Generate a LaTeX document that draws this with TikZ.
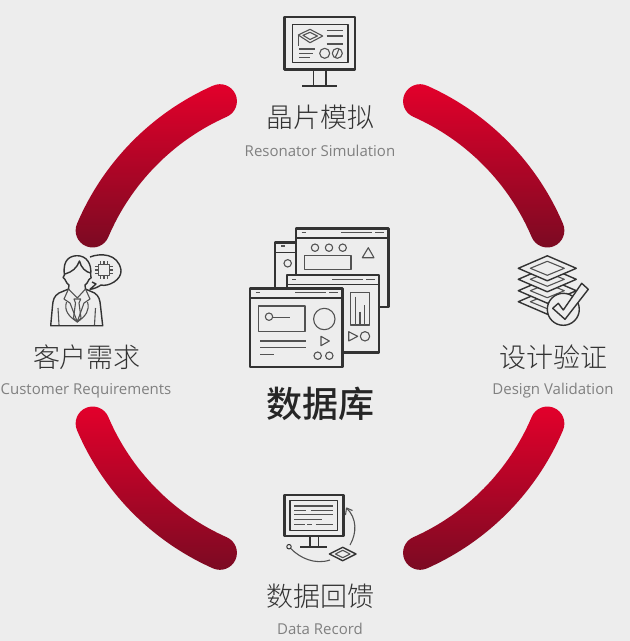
\documentclass[tikz,border=0pt]{standalone}
\usepackage{fontspec}
\setmainfont{Open Sans}
\newfontfamily\cjkfont{Noto Sans CJK SC Light}
\newfontfamily\cjkbold{Noto Sans CJK SC Medium}
\usetikzlibrary{positioning}

\definecolor{pagegrey}{HTML}{EDEDED}
\definecolor{iconline}{HTML}{333333}
\definecolor{redtop}{HTML}{E4002B}
\definecolor{redbottom}{HTML}{7A0A22}
\definecolor{cjkgrey}{HTML}{333333}
\definecolor{latingrey}{HTML}{808080}

\tikzset{
    cjklabel/.style = {inner sep = 0, text = cjkgrey, font = \cjkfont\fontsize{27}{27}\selectfont},
    latinlabel/.style = {inner sep = 0, text = latingrey, font = \fontsize{15}{15}\selectfont},
    bandfill/.style = {top color = redtop, bottom color = redbottom},
    heavy/.style = {draw = iconline, line width = 2.4pt},
    medium/.style = {draw = iconline, line width = 1.4pt},
    thin line/.style = {draw = iconline!85, line width = 1.1pt},
    paper/.style = {fill = pagegrey}
}

% one red band of the ring, angles counter-clockwise
\newcommand{\redarc}[2]{
    \shade [bandfill, shift = {(320, -327)}] (#1:264) arc (#1:#2:264) arc (#2:#2+180:17)
        arc (#2:#1:230) arc (#1+180:#1+360:17) -- cycle;
}
% window with its title bar, from top left corner to bottom right corner
\newcommand{\appwindow}[4]{
    \draw [heavy, paper] (#1, #2) rectangle (#3, #4);
    \draw [medium] (#1, #2 + 9.5) -- (#3, #2 + 9.5);
    \draw [thin line] (#1 + 5.5, #2 + 4.5) -- +(4, 0);
    \draw [thin line] (#3 - 47, #2 + 4.5) -- +(31, 0);
    \draw [thin line] (#3 - 13, #2 + 4.5) -- +(8.5, 0);
}

\begin{document}
\begin{tikzpicture}[x = 1pt, y = -1pt, line join = round]
            \useasboundingbox [fill = pagegrey] (0, 0) rectangle (630, 641);

            % ring
            \begin{scope}[y = 1pt]
                \redarc{113.9}{157}
                \redarc{23}{66.1}
                \redarc{203}{246.1}
                \redarc{293.9}{337}
            \end{scope}

            % texts
            \node [cjklabel] (simtitle) at (320, 117) {晶片模拟};
            \node [latinlabel] (simtext) at (320, 151) {Resonator Simulation};
            \node [cjklabel] (reqtitle) at (87, 357) {客户需求};
            \node [latinlabel] (reqtext) at (86, 391) {Customer Requirements};
            \node [cjklabel] (valtitle) at (553, 357) {设计验证};
            \node [latinlabel] (valtext) at (553, 391) {Design Validation};
            \node [cjklabel] (rectitle) at (320, 596) {数据回馈};
            \node [latinlabel] (rectext) at (320, 629) {Data Record};
            \node [inner sep = 0, text = black!85, font = \cjkbold\fontsize{36}{36}\selectfont] (dbtitle) at (320, 404) {数据库};

            % monitor on top
            \draw [heavy] (284.3, 16.7) rectangle (354.7, 69.3);
            \draw [medium] (292.3, 24.3) rectangle (348, 62.3);
            \draw [medium] (313.3, 69) -- (313.3, 86);
            \draw [medium] (326, 69) -- (326, 86);
            \draw [heavy] (302.3, 86) -- (336.7, 86);
            \draw [thin line] (298.3, 35) -- (310, 29.3) -- (322.7, 36) -- (310, 42.7) -- cycle;
            \draw [thin line] (303, 35.3) -- (310, 32.3) -- (317.5, 36) -- (310, 39.5) -- cycle;
            \draw [thin line] (298.3, 35) -- (298.3, 45.5);
            \foreach \ly in {30.7, 36, 44}
                \draw [thin line] (326.7, \ly) -- (342.7, \ly);
            \draw [thin line] (299, 49) -- (315, 49);
            \draw [thin line] (299, 53.3) -- (313.3, 53.3);
            \draw [thin line] (299, 57.3) -- (310, 57.3);
            \draw [thin line] (324.7, 53.3) circle (5);
            \draw [thin line] (337.3, 53.3) circle (5);
            \draw [thin line] (337.3, 53.3) -- (339, 48.6) (337.3, 53.3) -- (335, 57.8);

            % windows in the centre
            \draw [heavy, paper] (275, 242.3) rectangle (320, 300);
            \draw [medium] (275, 252.3) -- (300, 252.3);
            \draw [thin line] (281, 246) -- (285, 246);
            \draw [thin line] (287.7, 263.3) circle (3.7);

            \appwindow{296}{228.3}{388.3}{306.7}
            \foreach \cx in {315, 329, 342.7}
                \draw [thin line] (\cx, 247.7) circle (3.7);
            \draw [thin line] (304.3, 255.7) rectangle (351, 269.3);
            \draw [thin line] (362.3, 257.7) -- (368.3, 247.7) -- (374, 257.7) -- cycle;
            \draw [thin line] (357.4, 275) arc (180:360:10.3 and -10.3);

            \appwindow{286.7}{275}{379}{352.3}
            \draw [thin line] (350.7, 292.3) rectangle (369.3, 325);
            \draw [thin line] (355.7, 296.7) -- (355.7, 325);
            \draw [thin line] (360, 311.7) -- (360, 325);
            \draw [thin line] (364.7, 305) -- (364.7, 325);
            \draw [thin line] (348.7, 331.7) -- (357.7, 336.3) -- (348.7, 341) -- cycle;
            \draw [thin line] (365, 336.3) circle (4.7);

            \appwindow{250}{288.3}{342.3}{366.7}
            \draw [thin line] (258.7, 306) rectangle (305, 331.7);
            \draw [thin line] (269, 316.7) circle (3.7);
            \draw [thin line] (273.3, 317.7) -- (290, 317.7);
            \draw [thin line] (324.3, 319) circle (10.7);
            \draw [thin line] (321, 336.3) -- (329.3, 341) -- (321, 345.7) -- cycle;
            \draw [thin line] (260, 341) -- (306, 341);
            \draw [thin line] (260, 347.3) -- (306, 347.3);
            \draw [thin line] (260, 354.3) -- (274, 354.3);
            \draw [thin line] (317.7, 355.7) circle (3.7);
            \draw [thin line] (329.3, 355.7) circle (3.7);

            % person with speech bubble
            \draw [medium] (90, 257) .. controls (100, 253) and (118, 253) .. (121, 270)
                .. controls (122, 280) and (108, 287) .. (101, 285)
                .. controls (98, 287) and (94, 289) .. (90, 289.3) -- (96, 284) -- (92, 282);
            \draw [thin line] (98.3, 264.5) rectangle (109.7, 275.5);
            \foreach \pin in {100.5, 104, 107.5} {
                \draw [thin line] (\pin, 261) -- (\pin, 264.5);
                \draw [thin line] (\pin, 275.5) -- (\pin, 279);
            }
            \foreach \pin in {266.5, 270, 273.5} {
                \draw [thin line] (94.8, \pin) -- (98.3, \pin);
                \draw [thin line] (109.7, \pin) -- (113.2, \pin);
            }
            \draw [medium, paper] (64.5, 275) .. controls (62, 258) and (72, 255.7) .. (77.3, 255.7)
                .. controls (86, 255.7) and (92, 263) .. (90.7, 275)
                .. controls (92, 277) and (91, 279) .. (89, 279.5)
                .. controls (87, 285) and (82, 288.3) .. (77.3, 288.3)
                .. controls (72, 288.3) and (67, 285) .. (65, 279.5)
                .. controls (62.5, 279) and (62.5, 276) .. (64.5, 275) -- cycle;
            \draw [medium] (65, 274) .. controls (72, 272) and (77, 268) .. (79.5, 261)
                .. controls (81, 268) and (86, 272) .. (90.5, 273);
            \draw [medium, paper] (69, 285) -- (68.5, 289) -- (59, 293)
                .. controls (54, 296) and (53, 300) .. (52.5, 306) -- (50.7, 325.7) -- (102.7, 325.7)
                -- (100.5, 306) .. controls (100, 300) and (99, 296) .. (94.5, 293)
                -- (85.5, 289) -- (85, 285);
            \draw [thin line] (68.5, 289) -- (64, 299) -- (70, 303) -- (77.3, 321.7) -- (84, 303) -- (90, 299) -- (85.5, 289);
            \draw [thin line] (68.5, 289) -- (77.3, 298) -- (85.5, 289);
            \draw [thin line] (74, 299) -- (80.7, 299) -- (79, 303) -- (81, 318) -- (77.3, 322) -- (73.5, 318) -- (75.5, 303) -- cycle;
            \draw [thin line] (66.5, 302) .. controls (64, 310) and (68, 316) .. (77.3, 322)
                .. controls (86, 316) and (90, 310) .. (87.5, 302);
            \draw [thin line] (58, 308) -- (59, 325) (95.5, 308) -- (94.5, 325);

            % stack of sheets with check
            \foreach \sy in {301.7, 290.7, 279.3, 268.3} {
                \draw [medium, paper] (518.3, \sy) -- (547.3, \sy - 12.5) -- (576.3, \sy) -- (547.3, \sy + 12.5) -- cycle;
                \draw [thin line] (530.3, \sy) -- (547.3, \sy - 7) -- (564.3, \sy) -- (547.3, \sy + 7) -- cycle;
            }
            \draw [medium, paper] (563.3, 309.3) circle (16);
            \draw [medium, paper] (552.7, 308.3) -- (558.3, 303.3) -- (563.3, 310) -- (581.7, 283.3)
                -- (588.3, 289.3) -- (565, 319.3) -- cycle;

            % monitor at the bottom
            \draw [heavy] (284.3, 495) rectangle (343.3, 536);
            \draw [medium] (290, 500.7) rectangle (337.7, 530.7);
            \draw [thin line] (294.3, 506) -- (333.3, 506);
            \draw [thin line] (294.3, 510.7) -- (306, 510.7) (310.7, 510.7) -- (333.3, 510.7);
            \draw [thin line] (294.3, 514.7) -- (333.3, 514.7);
            \draw [thin line] (294.3, 519.7) -- (321.7, 519.7);
            \draw [thin line] (294.3, 524.7) -- (305, 524.7) (307.3, 524.7) -- (311.7, 524.7) (315.7, 524.7) -- (333.3, 524.7);
            \draw [medium] (310, 536) -- (310, 546.7);
            \draw [medium] (318.3, 536) -- (318.3, 546.7);
            \draw [heavy] (300, 546.7) -- (327.3, 546.7);
            \node [draw = iconline, line width = 1pt, shape = circle, minimum size = 4.5pt, inner sep = 0] (startdot) at (289, 546.7) {};
            \coordinate (arrowstart) at (350, 545);
            \coordinate (arrowend) at (346.5, 508);
            \coordinate (curveend) at (330, 560);
            \draw [thin line] (arrowstart) .. controls (357, 533) and (357, 518) .. (arrowend);
            \draw [thin line] (345.5, 515) -- (arrowend) -- (352.5, 510.5);
            \draw [thin line] (startdot) .. controls (300, 558) and (315, 565) .. (curveend);
            \draw [medium] (329.4, 554) -- (342.7, 547.3) -- (356, 554) -- (342.7, 560.7) -- cycle;
            \draw [thin line] (335.5, 554) -- (342.7, 550.3) -- (350, 554) -- (342.7, 557.7) -- cycle;
        \end{tikzpicture}
\end{document}
